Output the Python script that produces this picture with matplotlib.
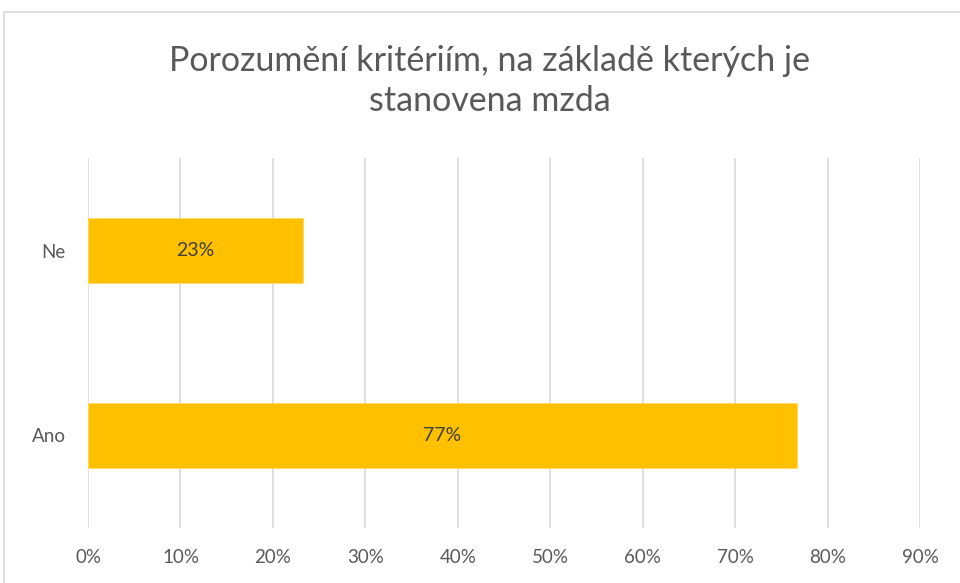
import matplotlib
matplotlib.use("Agg")
import matplotlib.pyplot as plt
from matplotlib.patches import Rectangle

categories = ["Ano", "Ne"]
values = [76.7, 23.3]
labels = ["77%", "23%"]
xticks = [0, 10, 20, 30, 40, 50, 60, 70, 80, 90]
xticklabels = [f"{t}%" for t in xticks]
title = "Porozumění kritériím, na základě kterých je\nstanovena mzda"

plt.rcParams['font.family'] = ['Lato', 'DejaVu Sans']

W, H = 960, 583
fig = plt.figure(figsize=(W / 100, H / 100), dpi=100)
fig.patch.set_facecolor("white")

# chart border
fig.patches.append(Rectangle((4 / W, -0.05), 1.1, (H - 12) / H + 0.05,
                             transform=fig.transFigure, fill=False,
                             edgecolor="#d9d9d9", linewidth=1.2))

ax = fig.add_axes([88 / W, (H - 528) / H, (920 - 88) / W, (528 - 158) / H])
ypos = list(range(len(categories)))
ax.barh(ypos, values, height=0.35, color="#FFC000", edgecolor="#FFD966", linewidth=0.6, zorder=3)
for y, v, lab in zip(ypos, values, labels):
    ax.text(v / 2, y, lab, ha="center", va="center", fontsize=14, color="#404040", zorder=4)

ax.set_xlim(0, 90)
ax.set_ylim(-0.5, 1.5)
ax.set_xticks(xticks)
ax.set_xticklabels(xticklabels)
ax.set_yticks(ypos)
ax.set_yticklabels(categories)
ax.tick_params(axis="both", length=0, labelsize=13.5, labelcolor="#595959")
ax.tick_params(axis="x", pad=15)
ax.tick_params(axis="y", pad=16)
ax.grid(axis="x", color="#d9d9d9", linewidth=1.2, zorder=0)
for s in ax.spines.values():
    s.set_visible(False)

fig.text(490 / W, 1 - 81 / H, title, ha="center", va="center", fontsize=24.5,
         color="#595959", linespacing=1.3)

fig.savefig("out.png", dpi=100)
